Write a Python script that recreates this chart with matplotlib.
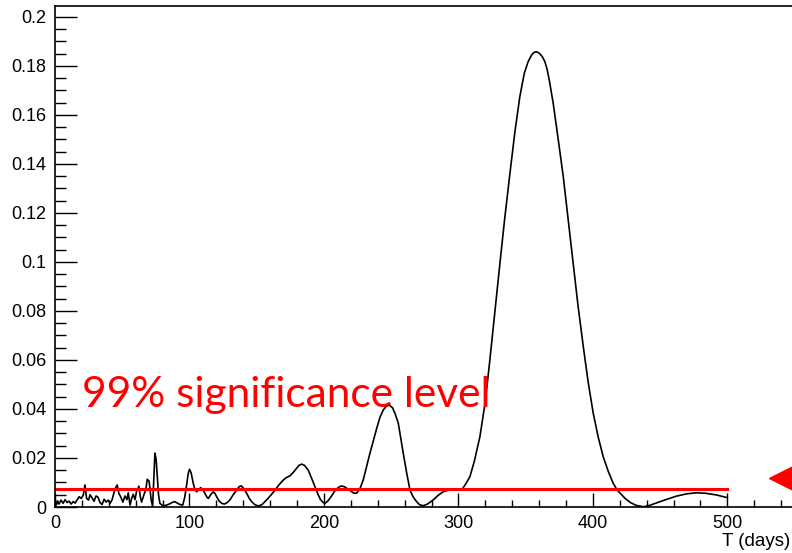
import matplotlib.pyplot as plt
from matplotlib.ticker import MultipleLocator, FormatStrFormatter

# periyot (gun) ve guc degerleri, resimden okunan noktalar
period = [0, 1, 2, 3, 4.5, 6, 7.5, 9, 10.5, 12, 13.5, 15, 16.5, 18, 19.5, 21, 22.3, 23.5,
          25, 26, 27.5, 29, 30.5, 32, 33.5, 35, 36.5, 38, 39.5, 41, 42.5, 44, 45.2, 46.3,
          47.5, 49, 50.5, 52, 53.5, 54.5, 55.8, 57, 58.2, 59.5, 60.7, 62.4, 63.5, 64.4, 66,
          67.5, 68.6, 70, 71.5, 72.6, 73.5, 74.3, 75.2, 76.1, 77, 78, 79.5, 81, 83, 85, 87,
          89, 91, 93, 95,
          96.5, 97.9, 99, 100, 101.2, 102.8, 104, 105.3, 106.8, 108.3, 110, 111.5, 113, 114,
          116, 117.7, 119, 120.2, 122, 123.9, 126, 128, 130.1, 132.5, 135.1, 137, 138.5,
          140.5, 142.5, 144.5, 146.2, 148.5, 151.2, 154, 157.4, 160.5, 163.6, 166.5, 169.8,
          172, 174.7, 177, 179.7, 181.5, 183.4, 185.5, 188.3, 191, 193.3, 195.8, 197.5,
          199.5, 201, 203, 205.7, 208, 210.7, 213.1, 215.5, 218, 220, 222, 224.3, 226.8,
          229.2, 231.5, 234.2, 236.7, 239.2, 241.6, 244, 246.5, 248.6, 251, 253, 255.3, 257,
          259, 261.5, 264, 266.5, 268.9, 271, 273.8, 277, 281.3, 285, 288.7, 292, 296.1, 299,
          302.4, 305, 308.6, 312, 316, 320, 323.4, 327, 330.9, 334.5, 338.3, 342, 345.7,
          347.5, 349, 351.9, 354.5, 356, 357.6, 359, 360.5, 362.4, 364.3, 365.9, 367.5,
          370.5, 374, 378, 381.5, 385.4, 389, 392.9, 396.5, 400.3, 404, 407.7, 411.5, 415.1,
          418, 420, 424, 428, 432, 437.4, 442, 448, 454.8, 462, 470, 477, 484, 492, 500]
power = [0.0035, 0.0008, 0.0025, 0.0012, 0.0028, 0.0015, 0.0030, 0.0018, 0.0024, 0.0012,
         0.0022, 0.0016, 0.0030, 0.0042, 0.0035, 0.0048, 0.0090, 0.0035, 0.0028, 0.0050,
         0.0038, 0.0023, 0.0045, 0.0040, 0.0018, 0.0010, 0.0032, 0.0020, 0.0028, 0.0015,
         0.0030, 0.0062, 0.0080, 0.0090, 0.0055, 0.0040, 0.0020, 0.0045, 0.0030, 0.0058,
         0.0008, 0.0035, 0.0052, 0.0030, 0.0065, 0.0085, 0.0040, 0.0020, 0.0048, 0.0070,
         0.0113, 0.0105, 0.0030, 0.0002, 0.0120, 0.0220, 0.0195, 0.0120, 0.0050, 0.0015,
         0.0008, 0.0005, 0.0008, 0.0012, 0.0018, 0.0022, 0.0016, 0.0010, 0.0008,
         0.0040, 0.0090, 0.0135, 0.0154, 0.0140, 0.0097, 0.0072, 0.0062, 0.0070, 0.0079,
         0.0070, 0.0056, 0.0040, 0.0035, 0.0052, 0.0062, 0.0055, 0.0042, 0.0025, 0.0015,
         0.0012, 0.0018, 0.0029, 0.0050, 0.0069, 0.0083, 0.0086, 0.0075, 0.0056, 0.0035,
         0.0022, 0.0010, 0.0004, 0.0010, 0.0029, 0.0048, 0.0069, 0.0090, 0.0110, 0.0120,
         0.0127, 0.0140, 0.0158, 0.0170, 0.0175, 0.0170, 0.0151, 0.0115, 0.0083, 0.0049,
         0.0030, 0.0018, 0.0016, 0.0025, 0.0045, 0.0065, 0.0080, 0.0086, 0.0082, 0.0072,
         0.0065, 0.0057, 0.0056, 0.0075, 0.0110, 0.0160, 0.0219, 0.0270, 0.0320, 0.0365,
         0.0395, 0.0412, 0.0416, 0.0405, 0.0380, 0.0342, 0.0285, 0.0219, 0.0140, 0.0069,
         0.0040, 0.0022, 0.0010, 0.0005, 0.0012, 0.0029, 0.0048, 0.0062, 0.0068, 0.0070,
         0.0069, 0.0070, 0.0090, 0.0124, 0.0190, 0.0287, 0.0430, 0.0600, 0.0790, 0.0995,
         0.1180, 0.1360, 0.1530, 0.1675, 0.1728, 0.1770, 0.1818, 0.1845, 0.1854, 0.1858,
         0.1856, 0.1850, 0.1838, 0.1818, 0.1788, 0.1745, 0.1648, 0.1510, 0.1348, 0.1180,
         0.0995, 0.0820, 0.0654, 0.0510, 0.0382, 0.0285, 0.0205, 0.0145, 0.0097, 0.0070,
         0.0058, 0.0035, 0.0018, 0.0007, 0.0001, 0.0006, 0.0018, 0.0031, 0.0044, 0.0054,
         0.0058, 0.0056, 0.0049, 0.0038]

# %99 anlamlilik seviyesi
sig_level = 0.0072
sig_range = [0, 500]
sig_label = "99% significance level"

plt.rcParams['font.family'] = ['Liberation Sans', 'DejaVu Sans']

fig = plt.figure(figsize=(7.92, 5.53), dpi=100)
# cerceve sag tarafta resmin disina tasiyor
ax = fig.add_axes([55 / 792, 46 / 553, 753 / 792, 501.3 / 553])

ax.plot(period, power, color='black', lw=1.2)
ax.plot(sig_range, [sig_level, sig_level], color='red', lw=2.2)
ax.text(20, 0.0408, sig_label, color='red', fontsize=30.5, family='Lato')

# sag kenardaki kirmizi ucgen
ax.plot([542], [0.0118], marker='<', ms=22, color='red', clip_on=False)

ax.set_xlim(0, 560)
ax.set_ylim(0, 0.2046)

ax.xaxis.set_major_locator(MultipleLocator(100))
ax.xaxis.set_minor_locator(MultipleLocator(20))
ax.yaxis.set_major_locator(MultipleLocator(0.02))
ax.yaxis.set_minor_locator(MultipleLocator(0.005))
ax.yaxis.set_major_formatter(FormatStrFormatter('%g'))

ax.tick_params(axis='both', which='both', direction='in', labelsize=13, width=1)
ax.tick_params(axis='y', which='major', length=16, pad=6)
ax.tick_params(axis='y', which='minor', length=8)
ax.tick_params(axis='x', which='major', length=10, pad=6)
ax.tick_params(axis='x', which='minor', length=5)
for s in ax.spines.values():
    s.set_linewidth(1.2)

fig.text(722 / 792, 1 - 546 / 553, 'T (days)', fontsize=13.5, ha='left', va='baseline')

fig.savefig('out.png', dpi=100)
